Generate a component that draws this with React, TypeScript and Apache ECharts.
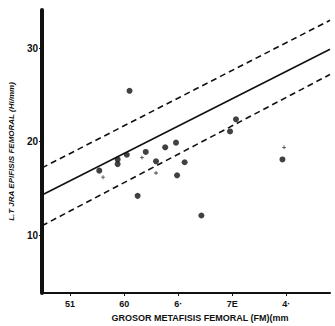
import React, { useEffect, useRef } from "react";
import * as echarts from "echarts";

const xTickValues = [50, 60, 70, 80, 90];
const xTickLabels = ["51", "60", "6·", "7E", "4·"];
const yTickValues = [10, 20, 30];

const dots: [number, number][] = [
  [61.0, 25.45],
  [55.4, 16.9],
  [58.8, 18.1],
  [58.8, 17.6],
  [60.5, 18.6],
  [64.0, 18.9],
  [67.6, 19.4],
  [69.6, 19.9],
  [65.9, 17.9],
  [71.2, 17.8],
  [69.8, 16.4],
  [62.5, 14.2],
  [74.3, 12.1],
  [79.6, 21.1],
  [80.7, 22.4],
  [89.3, 18.1],
];
const crosses: [number, number][] = [
  [56.1, 16.2],
  [63.3, 18.3],
  [65.9, 16.65],
  [89.6, 19.4],
];
const regression: [number, number][] = [
  [44.8, 14.3],
  [98.1, 29.9],
];
const upperBand: [number, number][] = [
  [44.8, 17.2],
  [98.1, 33.0],
];
const lowerBand: [number, number][] = [
  [44.8, 11.0],
  [98.1, 27.2],
];

const xTitle = "GROSOR METAFISIS FEMORAL (FM)(mm";
const yTitle = "L.T JRA EPIFISIS FEMORAL (Hi/mm)";

export default function App() {
  const ref = useRef<HTMLDivElement>(null);
  useEffect(() => {
    if (!ref.current) return;
    const chart = echarts.init(ref.current, null, { renderer: "svg" });
    const font = "Liberation Sans";
    chart.setOption({
      animation: false,
      backgroundColor: "#ffffff",
      grid: { left: 42, right: 5, top: 10, bottom: 33, containLabel: false, outerBoundsMode: "none" },
      xAxis: {
        type: "value",
        min: 44.8,
        max: 98.1,
        splitLine: { show: false },
        axisLine: { show: true, onZero: false, lineStyle: { color: "#111", width: 2 } },
        axisTick: { show: true, customValues: xTickValues, length: 3, lineStyle: { color: "#111" } },
        axisLabel: {
          customValues: xTickValues,
          formatter: (v: number) => xTickLabels[xTickValues.indexOf(Math.round(v))] ?? "",
          color: "#111",
          fontFamily: font,
          fontWeight: "bold",
          fontSize: 9,
          margin: 6,
        },
        name: xTitle,
        nameLocation: "middle",
        nameGap: 20,
        nameTextStyle: { color: "#111", fontFamily: font, fontWeight: "bold", fontSize: 9, padding: [0, 0, 0, 28] },
      },
      yAxis: {
        type: "value",
        min: 3.8,
        max: 34.1,
        splitLine: { show: false },
        axisLine: { show: true, onZero: false, lineStyle: { color: "#111", width: 4 } },
        axisTick: { show: true, customValues: yTickValues, length: 3, lineStyle: { color: "#111" } },
        axisLabel: {
          customValues: yTickValues,
          color: "#111",
          fontFamily: font,
          fontWeight: "bold",
          fontSize: 10,
          margin: 4,
        },
        name: yTitle,
        nameLocation: "middle",
        nameGap: 22,
        nameTextStyle: { color: "#111", fontFamily: font, fontWeight: "bold", fontStyle: "italic", fontSize: 8 },
      },
      series: [
        {
          type: "line",
          data: regression,
          symbol: "none",
          lineStyle: { color: "#111", width: 1.6 },
        },
        {
          type: "line",
          data: upperBand,
          symbol: "none",
          lineStyle: { color: "#111", width: 1.6, type: [6, 4] },
        },
        {
          type: "line",
          data: lowerBand,
          symbol: "none",
          lineStyle: { color: "#111", width: 1.6, type: [6, 4] },
        },
        {
          type: "scatter",
          data: dots,
          symbol: "circle",
          symbolSize: 6,
          itemStyle: { color: "#111" },
        },
        {
          type: "scatter",
          data: crosses,
          symbol: "path://M2,0 H3 V2 H5 V3 H3 V5 H2 V3 H0 V2 H2 Z",
          symbolSize: 4,
          itemStyle: { color: "#111" },
        },
      ],
    });
    return () => chart.dispose();
  }, []);
  return (
    <div
      ref={ref}
      style={{ position: "fixed", left: 0, top: 0, width: 335, height: 326 }}
    />
  );
}
